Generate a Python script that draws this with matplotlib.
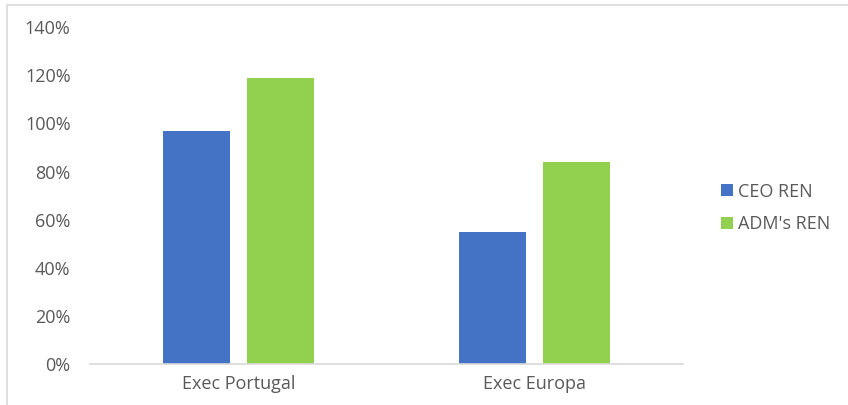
import matplotlib.pyplot as plt
import matplotlib.patches as mpatches
import numpy as np

categories = ["Exec Portugal", "Exec Europa"]
ceo_ren = [97, 55]
adm_ren = [119, 84]
series_names = ["CEO REN", "ADM's REN"]
yticks = [0, 20, 40, 60, 80, 100, 120, 140]

plt.rcParams['font.family'] = ['Open Sans', 'DejaVu Sans']
grey = "#595959"
fs = 13

fig = plt.figure(figsize=(8.48, 4.05), dpi=100)
ax = fig.add_axes([90/848, 41/405, 593/848, 336.7/405])

x = np.arange(len(categories))
w = 0.225
off = 0.1417
ax.bar(x - off, ceo_ren, w, color="#4472C4", label=series_names[0])
ax.bar(x + off, adm_ren, w, color="#92D050", label=series_names[1])

ax.set_xlim(-0.5, 1.5)
ax.set_ylim(0, 140)
ax.set_yticks(yticks)
ax.set_yticklabels([f"{v}%" for v in yticks], color=grey, fontsize=fs)
ax.set_xticks(x)
ax.set_xticklabels(categories, color=grey, fontsize=fs)
ax.tick_params(length=0, pad=8)
ax.tick_params(axis='y', pad=14)
for s in ["top", "right", "left"]:
    ax.spines[s].set_visible(False)
ax.spines["bottom"].set_color("#D9D9D9")
ax.spines["bottom"].set_linewidth(1.2)

# chart area border (cut off on right and bottom)
fig.patches.append(mpatches.Rectangle((7/848, -0.1), 1.1, 400/405 + 0.1,
                                      transform=fig.transFigure, fill=False,
                                      edgecolor="#D9D9D9", linewidth=1.2))

leg = ax.legend(loc="center left", bbox_to_anchor=(705/848, 197/405),
                bbox_transform=fig.transFigure, frameon=False, fontsize=fs,
                handlelength=0.65, handleheight=0.65, handletextpad=0.3,
                labelspacing=0.8)
for t in leg.get_texts():
    t.set_color(grey)

fig.savefig("out.png", dpi=100)
